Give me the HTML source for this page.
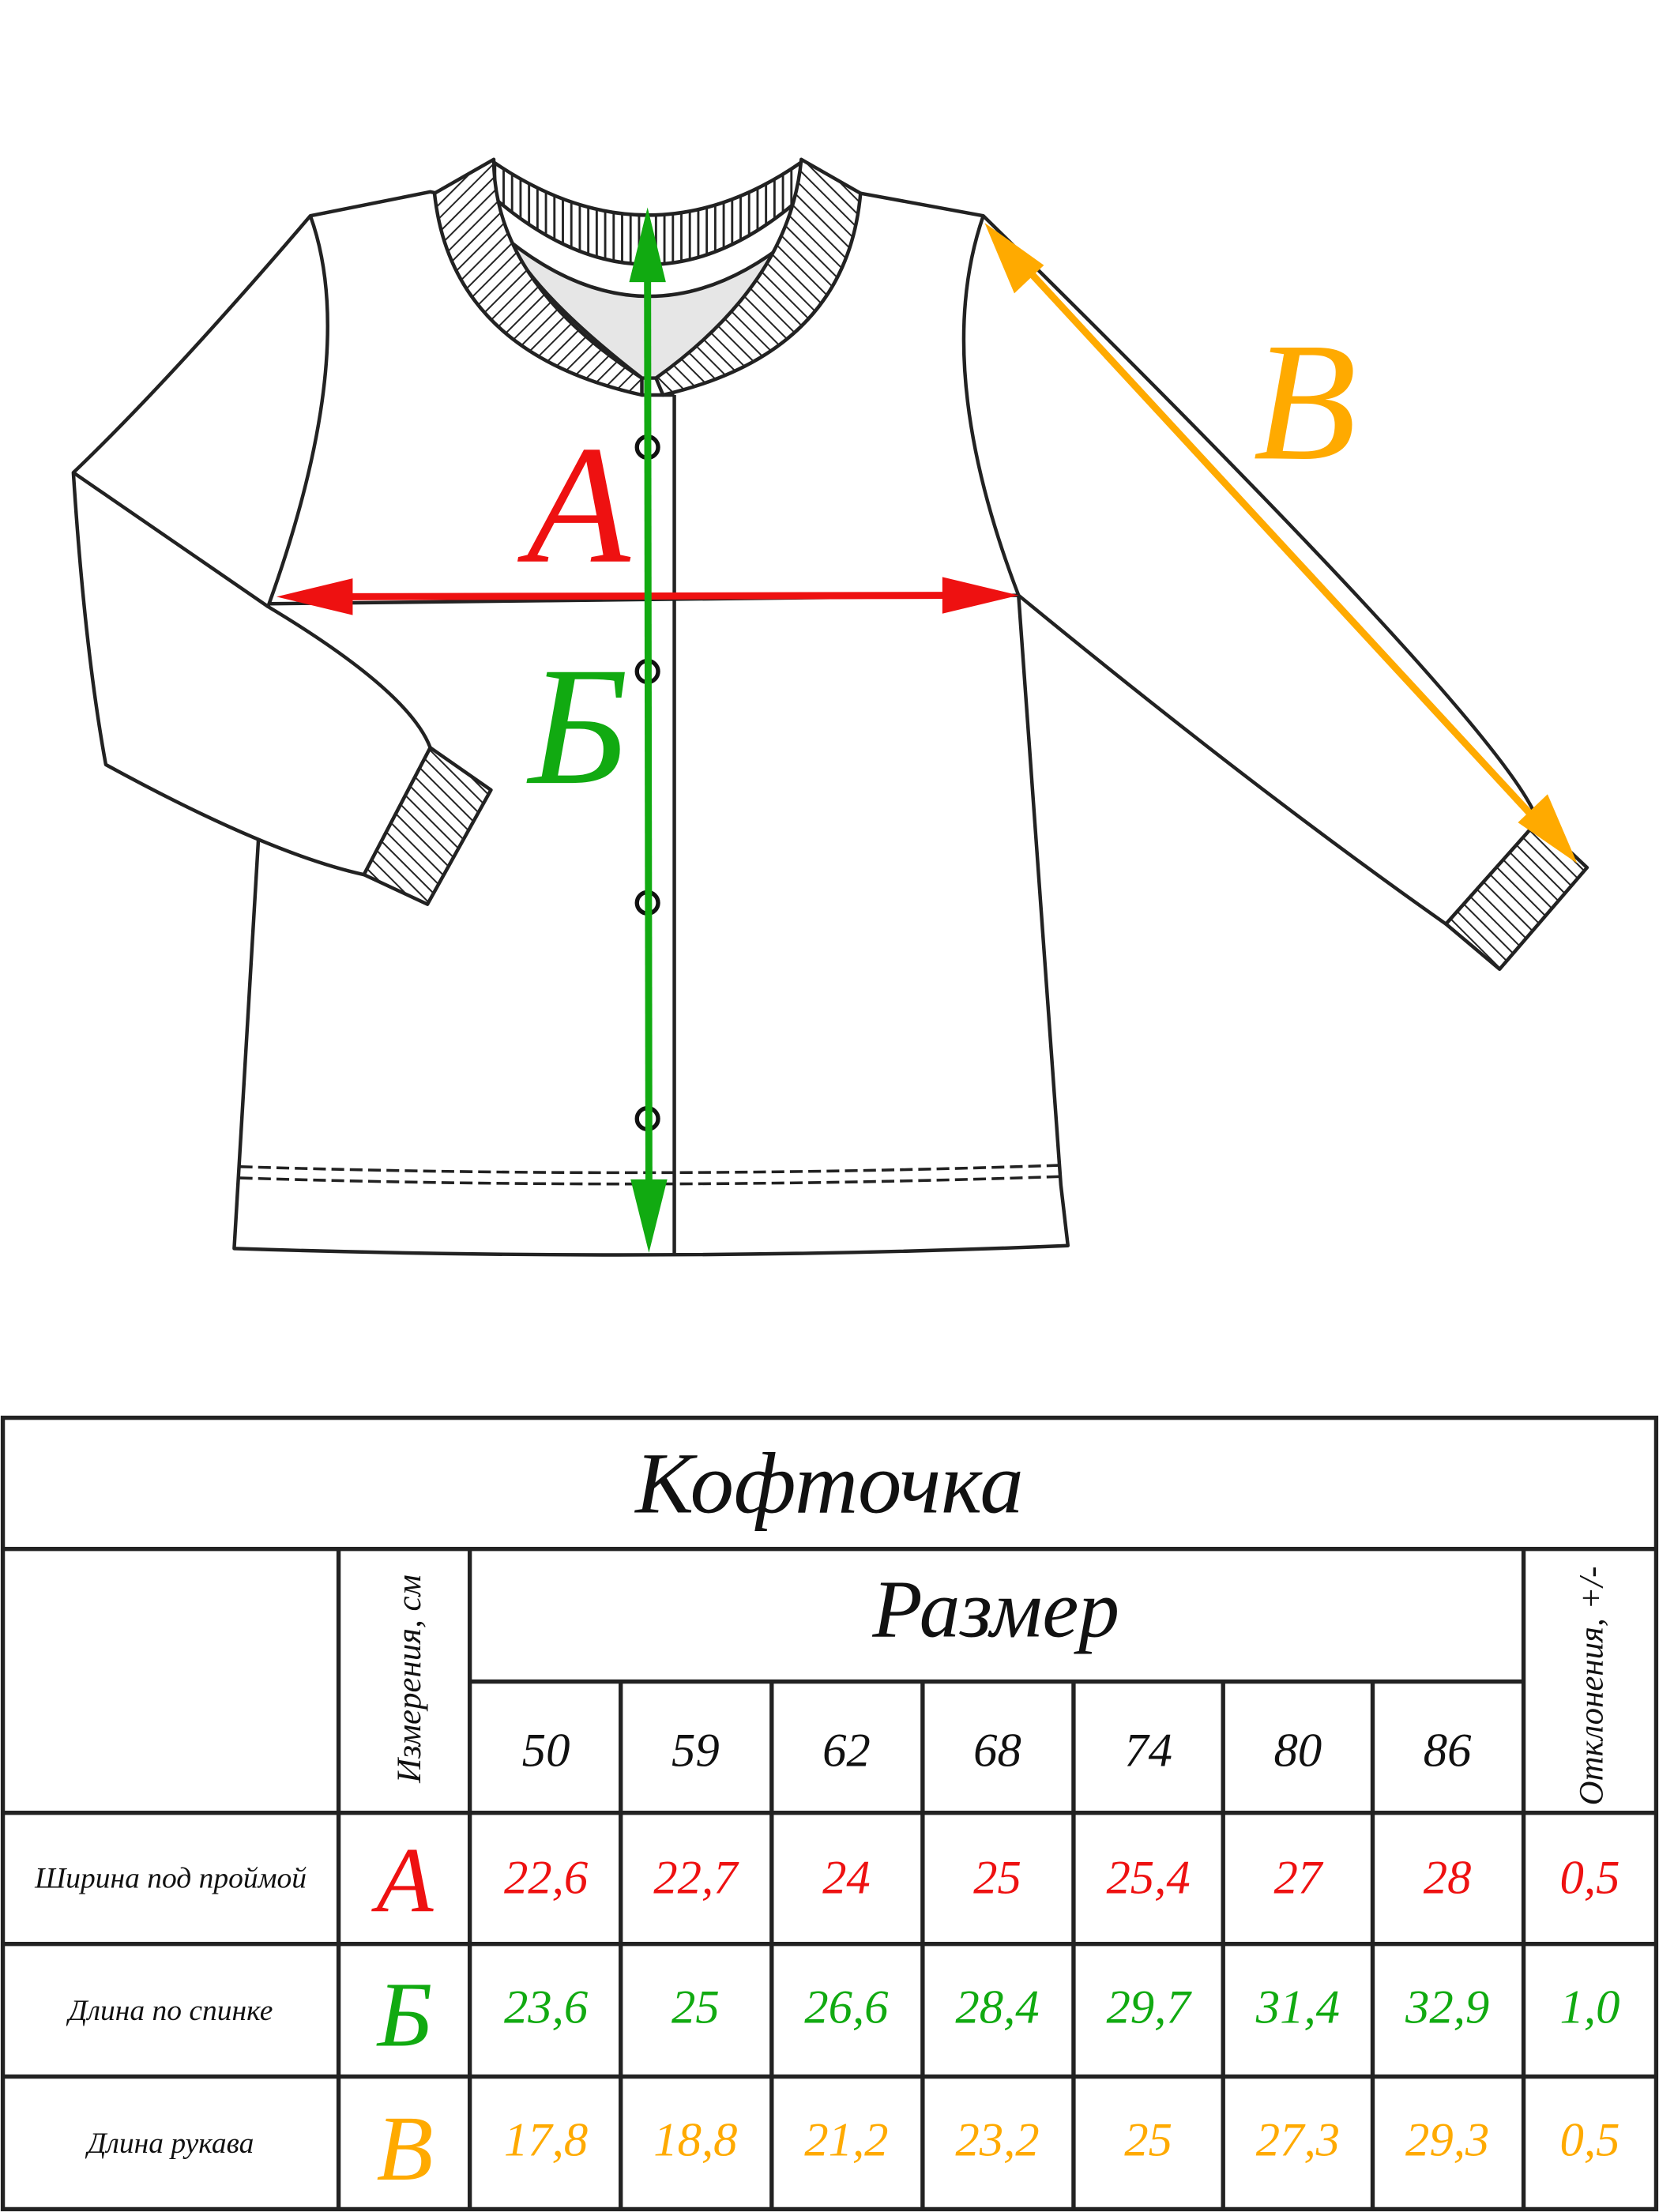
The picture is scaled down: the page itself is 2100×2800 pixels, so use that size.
<!DOCTYPE html>
<html><head><meta charset="utf-8"><style>
html,body{margin:0;padding:0;background:#fff;}
svg{display:block;}
text{font-family:"Liberation Serif","DejaVu Serif",serif;font-style:italic;}
</style></head><body>
<svg width="2100" height="2800" viewBox="0 0 1176 1568" xmlns="http://www.w3.org/2000/svg">
<defs>
<pattern id="h" patternUnits="userSpaceOnUse" width="7" height="7" patternTransform="rotate(45)">
<rect width="7" height="7" fill="#fff"/><line x1="0" y1="0" x2="0" y2="7" stroke="#222" stroke-width="2.2"/></pattern>
<pattern id="v" patternUnits="userSpaceOnUse" width="6" height="6">
<rect width="6" height="6" fill="#fff"/><line x1="3" y1="0" x2="3" y2="6" stroke="#222" stroke-width="1.6"/></pattern>
<pattern id="h2" patternUnits="userSpaceOnUse" width="7" height="7" patternTransform="rotate(-45)">
<rect width="7" height="7" fill="#fff"/><line x1="0" y1="0" x2="0" y2="7" stroke="#222" stroke-width="2.2"/></pattern>
</defs>
<g fill="#fff" stroke="#222" stroke-width="2.5" stroke-linejoin="round">
<path d="M190,428 L183,598 L166,885 Q470,895 757,883 L752,840 L722,422 Z"/>
<path d="M220,153 Q120,270 52,335 Q60,460 75,542 Q190,605 258,620 L305,530 Q290,490 190,430 Q255,250 220,153 Z"/>
<path d="M52,335 L190,430" fill="none"/>
<polygon points="258,620 305,530 348,560 303,641" fill="url(#h2)"/>
<path d="M697,153 Q660,260 722,422 Q890,560 1025,655 L1090,582 Q1070,520 697,153 Z"/>
<polygon points="1025,655 1090,582 1125,615 1063,687" fill="url(#h2)"/>
<path d="M220,153 L305,136 L310,137 M610,137 L697,153" fill="none"/>
<path d="M350,115 Q460,190 568,115 L568,140 Q460,235 350,140 Z" fill="url(#v)"/>
<path d="M360,170 Q460,250 560,170 Q540,210 478,268 L455,268 Q380,210 360,170 Z" fill="#e6e6e6"/>
<path d="M308,137 L350,113 Q350,200 455,268 L455,280 Q320,250 308,137 Z" fill="url(#h)"/>
<path d="M610,137 L568,113 Q560,200 465,268 L470,280 Q600,250 610,137 Z" fill="url(#h2)"/>
<line x1="478" y1="280" x2="478" y2="890"/>
<line x1="455" y1="280" x2="478" y2="280"/>
</g>
<g fill="none" stroke="#222" stroke-width="2" stroke-dasharray="9,4">
<path d="M170,827 Q460,836 752,826"/><path d="M170,835 Q460,844 752,834"/>
</g>
<g fill="#fff" stroke="#111" stroke-width="3">
<circle cx="459" cy="317" r="7.5"/><circle cx="459" cy="476" r="7.5"/><circle cx="459" cy="640" r="7.5"/><circle cx="459" cy="793" r="7.5"/>
</g>
<line x1="240" y1="423" x2="680" y2="422" stroke="#e11" stroke-width="5"/>
<polygon points="196,423 250,410 250,436" fill="#e11"/>
<polygon points="722,422 668,409 668,435" fill="#e11"/>
<line x1="459" y1="185" x2="460" y2="850" stroke="#1a1" stroke-width="5"/>
<polygon points="459,147 446,200 472,200" fill="#1a1"/>
<polygon points="460,888 447,836 473,836" fill="#1a1"/>
<line x1="720" y1="182" x2="1095" y2="588" stroke="#fa0" stroke-width="5"/>
<polygon points="698,158 740,188 719,208" fill="#fa0"/>
<polygon points="1118,612 1076,583 1097,563" fill="#fa0"/>
<text x="410" y="398" font-size="120" fill="#e11" text-anchor="middle">A</text>
<text x="410" y="555" font-size="120" fill="#1a1" text-anchor="middle">Б</text>
<text x="925" y="325" font-size="120" fill="#fa0" text-anchor="middle">В</text>
<g stroke="#222" stroke-width="3" fill="none">
<rect x="2" y="1005" width="1172" height="561"/>
<line x1="2" y1="1098" x2="1174" y2="1098"/>
<line x1="2" y1="1285" x2="1174" y2="1285"/>
<line x1="2" y1="1378" x2="1174" y2="1378"/>
<line x1="2" y1="1472" x2="1174" y2="1472"/>
<line x1="333" y1="1192" x2="1080" y2="1192"/>
<line x1="240" y1="1098" x2="240" y2="1566"/>
<line x1="333" y1="1098" x2="333" y2="1566"/>
<line x1="1080" y1="1098" x2="1080" y2="1566"/>
<line x1="440" y1="1192" x2="440" y2="1566"/>
<line x1="547" y1="1192" x2="547" y2="1566"/>
<line x1="654" y1="1192" x2="654" y2="1566"/>
<line x1="761" y1="1192" x2="761" y2="1566"/>
<line x1="867" y1="1192" x2="867" y2="1566"/>
<line x1="973" y1="1192" x2="973" y2="1566"/>
</g>
<g fill="#111" text-anchor="middle">
<text x="588" y="1072" font-size="62">Кофточка</text>
<text x="706" y="1160" font-size="58">Размер</text>
<text transform="translate(298,1190) rotate(-90)" font-size="24">Измерения, см</text>
<text transform="translate(1136,1195) rotate(-90)" font-size="24">Отклонения, +/-</text>
<g font-size="34">
<text x="387" y="1252">50</text><text x="493" y="1252">59</text><text x="600" y="1252">62</text><text x="707" y="1252">68</text><text x="814" y="1252">74</text><text x="920" y="1252">80</text><text x="1026" y="1252">86</text>
</g>
<g font-size="21"><text x="121" y="1338">Ширина под проймой</text><text x="121" y="1432">Длина по спинке</text><text x="121" y="1526">Длина рукава</text></g>
<text x="287" y="1355" font-size="66" fill="#e11">A</text>
<text x="287" y="1450" font-size="66" fill="#1a1">Б</text>
<text x="287" y="1545" font-size="66" fill="#fa0">В</text>
<g font-size="34" fill="#e11"><text x="387" y="1342">22,6</text><text x="493" y="1342">22,7</text><text x="600" y="1342">24</text><text x="707" y="1342">25</text><text x="814" y="1342">25,4</text><text x="920" y="1342">27</text><text x="1026" y="1342">28</text><text x="1127" y="1342">0,5</text></g>
<g font-size="34" fill="#1a1"><text x="387" y="1434">23,6</text><text x="493" y="1434">25</text><text x="600" y="1434">26,6</text><text x="707" y="1434">28,4</text><text x="814" y="1434">29,7</text><text x="920" y="1434">31,4</text><text x="1026" y="1434">32,9</text><text x="1127" y="1434">1,0</text></g>
<g font-size="34" fill="#fa0"><text x="387" y="1528">17,8</text><text x="493" y="1528">18,8</text><text x="600" y="1528">21,2</text><text x="707" y="1528">23,2</text><text x="814" y="1528">25</text><text x="920" y="1528">27,3</text><text x="1026" y="1528">29,3</text><text x="1127" y="1528">0,5</text></g>
</g>
</svg>
</body></html>
